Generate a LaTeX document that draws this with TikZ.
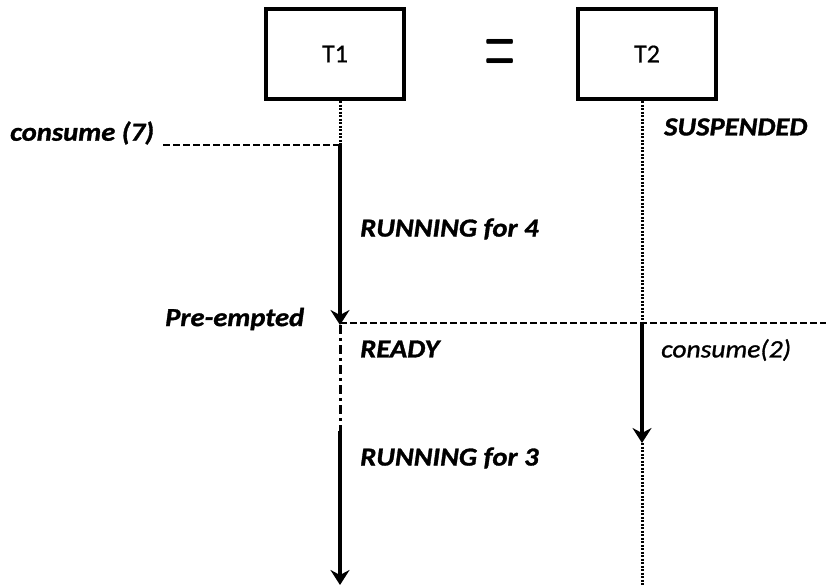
\documentclass[tikz,border=0pt]{standalone}
\usepackage{fontspec}
\setmainfont{Carlito}
\newfontfamily\lblfont[FakeStretch=1.1,FakeBold=1.2]{Carlito}
\newfontfamily\boxfont[FakeBold=0.6]{Carlito}
\newfontfamily\eqfont{Latin Modern Roman}
\usetikzlibrary{arrows.meta}
\begin{document}
\begin{tikzpicture}[x=1pt,y=-1pt,
  taskbox/.style={draw,line width=4pt,minimum width=138pt,minimum height=90pt,inner sep=0pt,font=\boxfont\fontsize{26}{28}\selectfont},
  state/.style={anchor=west,inner sep=0pt,font=\lblfont\fontsize{26}{28}\selectfont\bfseries\itshape},
  note/.style={anchor=west,inner sep=0pt,font=\lblfont\fontsize{25}{28}\selectfont\itshape},
  idle/.style={line width=3pt,dash pattern=on 2pt off 1.5pt},
  guide/.style={line width=2.5pt,dash pattern=on 7pt off 3pt},
  waiting/.style={line width=3pt,dash pattern=on 9pt off 4pt on 3pt off 4pt},
  run/.style={line width=4pt,-{Stealth[length=15pt,width=19pt,inset=5pt]}}
]
\useasboundingbox (0,0) rectangle (826,586);

% task boxes
\node[taskbox] (t1) at (335,54) {T1};
\node[taskbox] (t2) at (647,54) {T2};
\node[inner sep=2pt] (eq) at (500,56) {\scalebox{0.85}[2.1]{\eqfont\bfseries\fontsize{42}{42}\selectfont =}};

% timeline points
\coordinate (a1) at (340,145);
\coordinate (a2) at (340,325);
\coordinate (a3) at (340,431);
\coordinate (a4) at (340,585);
\coordinate (c7) at (163,145);
\coordinate (b1) at (642,323);
\coordinate (b2) at (642,443);
\coordinate (b3) at (642,586);
\coordinate (pe) at (826,323);

% T1 timeline
\draw[idle] (t1.south -| a1) -- (a1);
\draw[guide] (c7) -- (a1);
\draw[run] (a1) -- (a2);
\draw[waiting] (a2) -- (a3);
\draw[run] (a3) -- (a4);

% pre-emption line
\draw[guide] (a2 |- pe) -- (pe);

% T2 timeline
\draw[idle] (t2.south -| b1) -- (b1);
\draw[run] (b1) -- (b2);
\draw[idle] (b2) -- (b3);

% labels
\node[state] (l7) at (10,133) {consume (7)};
\node[state] (lsus) at (664,127) {SUSPENDED};
\node[state] (lr4) at (360,229) {RUNNING for 4};
\node[state] (lpe) at (165,319) {Pre-empted};
\node[state] (lrdy) at (360,349) {READY};
\node[note] (l2) at (661,350) {consume(2)};
\node[state] (lr3) at (360,458) {RUNNING for 3};
\end{tikzpicture}
\end{document}
